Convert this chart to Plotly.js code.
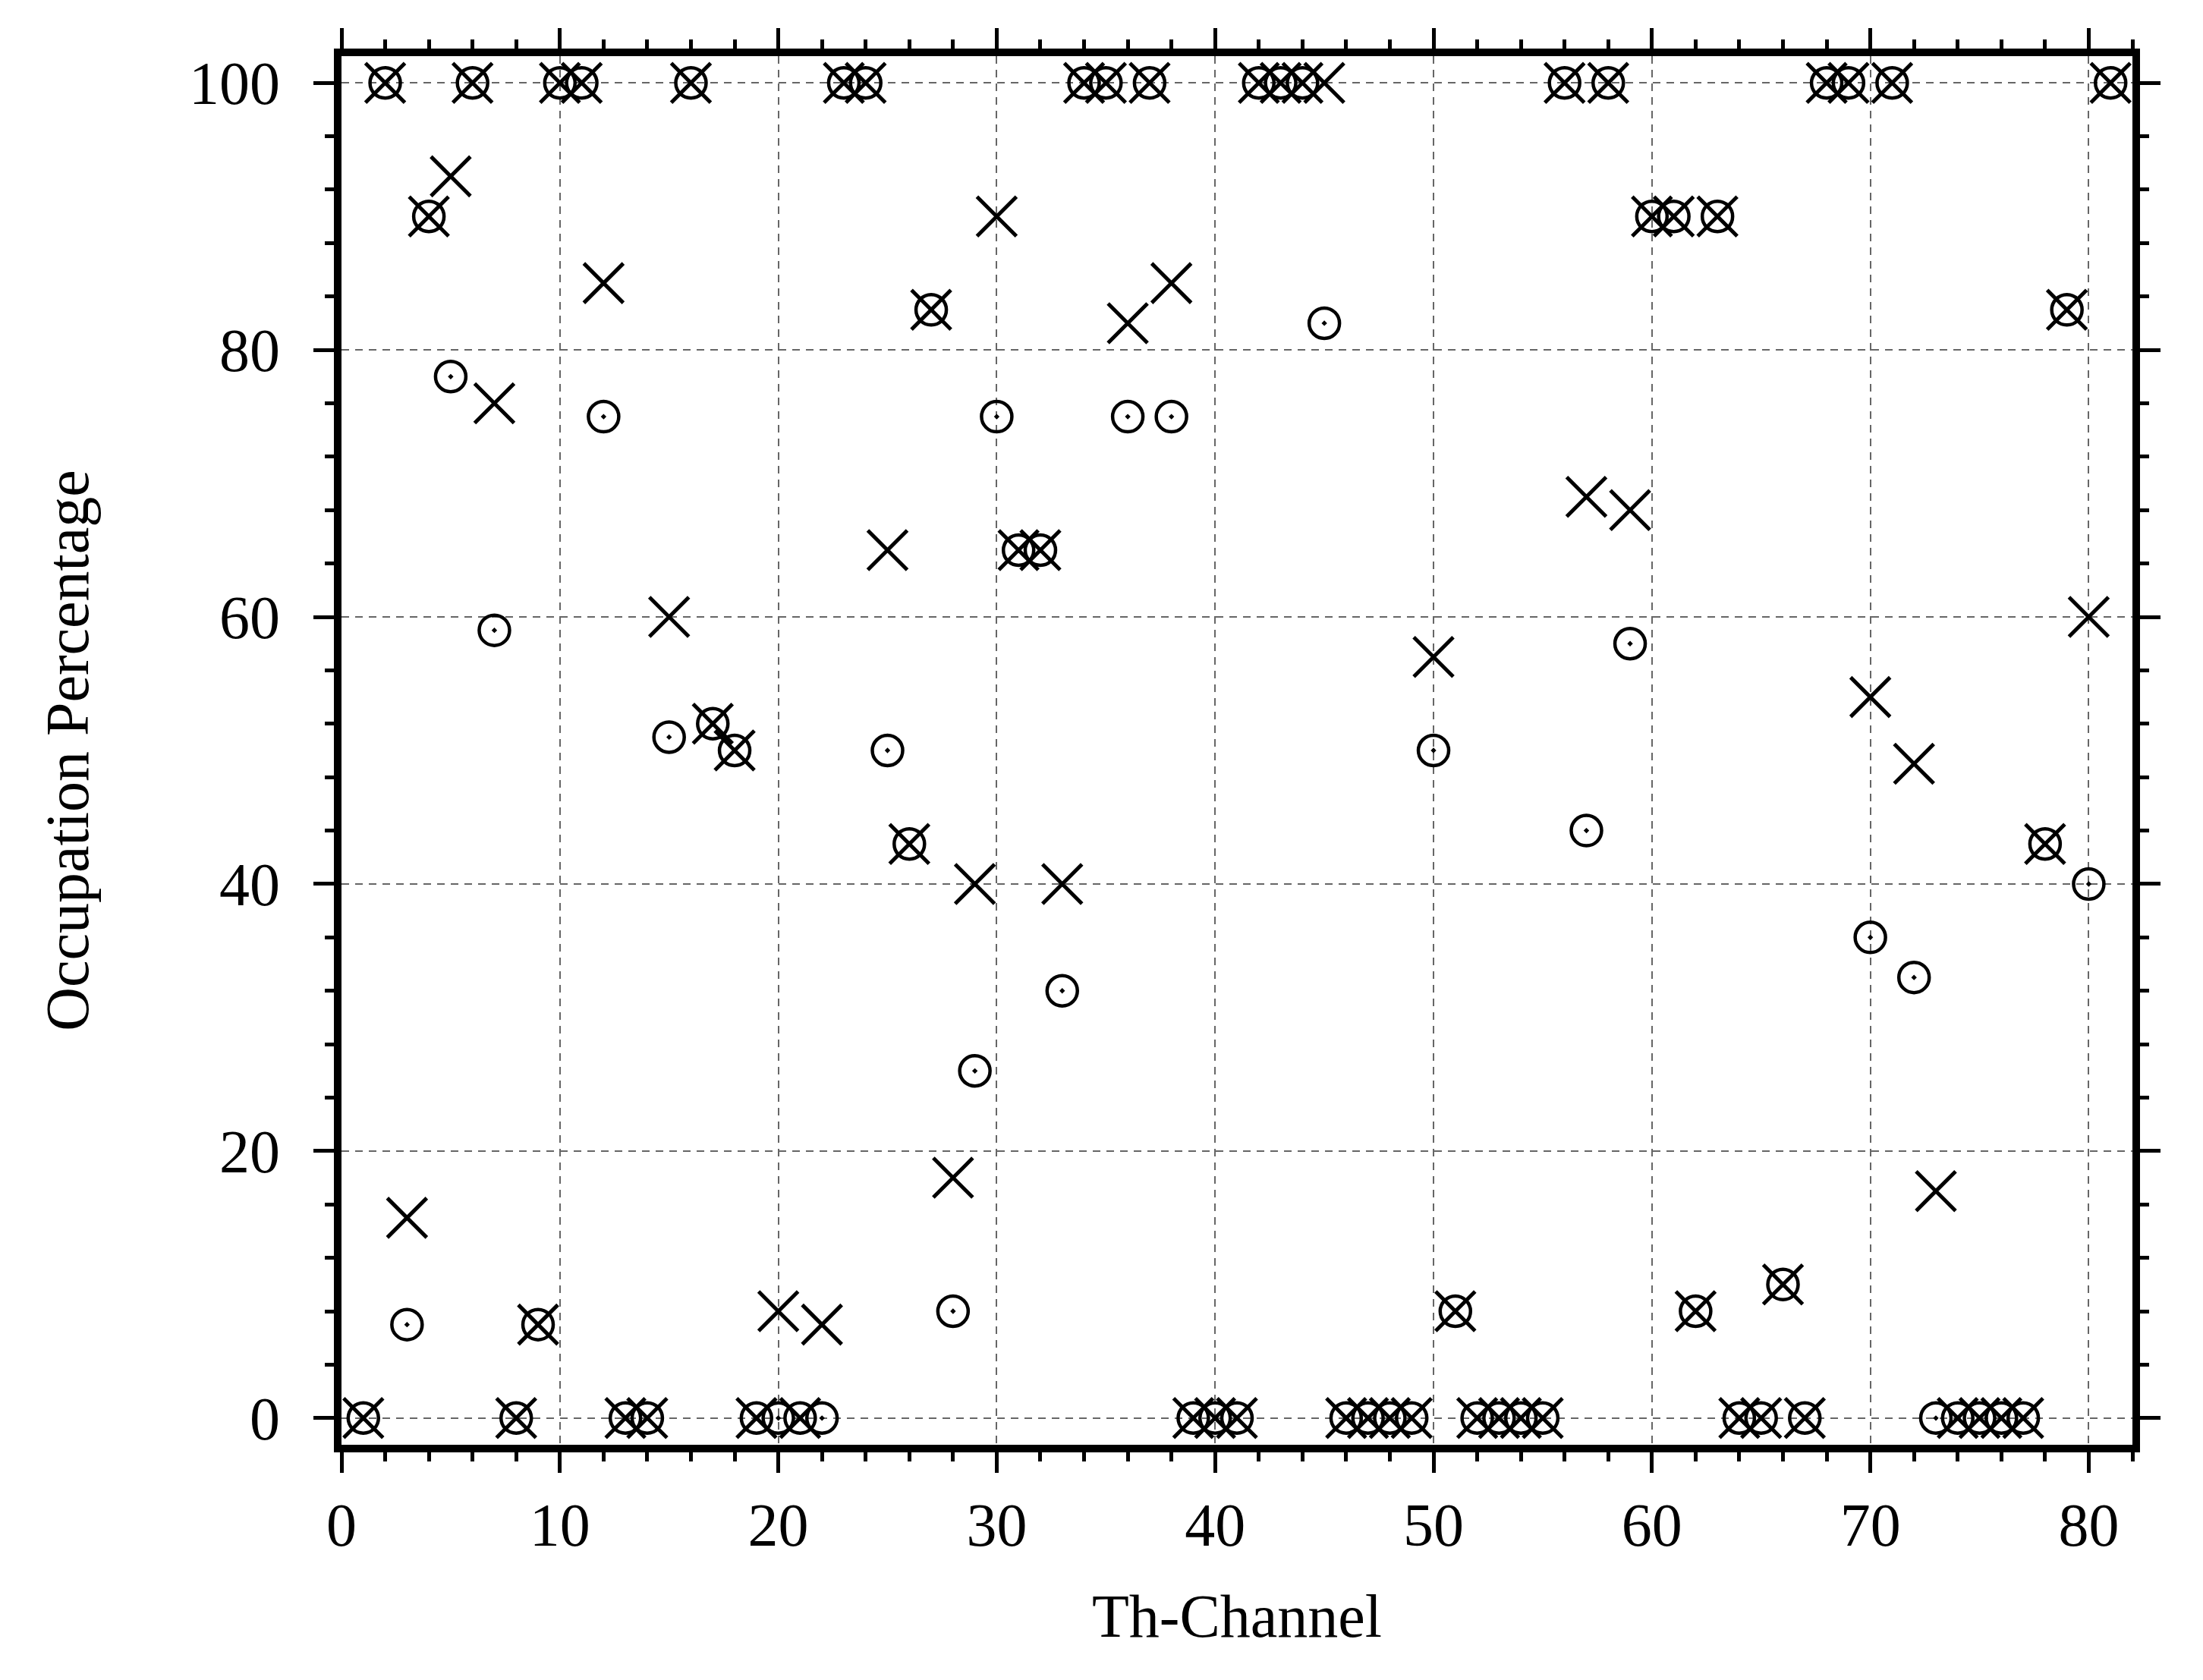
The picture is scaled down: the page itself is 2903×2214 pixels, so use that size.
<!DOCTYPE html>
<html>
<head>
<meta charset="utf-8">
<script src="https://cdn.plot.ly/plotly-3.0.1.min.js"></script>
<style>
  html, body { margin: 0; padding: 0; background: #fff; }
  #chart { width: 2903px; height: 2214px; }
</style>
</head>
<body>
<div id="chart"></div>
<script>
// channel numbers 1..81
var channels = [];
for (var c = 1; c <= 81; c++) channels.push(c);

// circle-with-dot series
var circleVals = [
  0, 100, 7, 90, 78, 100, 59, 0, 7, 100,
  100, 75, 0, 0, 51, 100, 52, 50, 0, 0,
  0, 0, 100, 100, 50, 43, 83, 8, 26, 75,
  65, 65, 32, 100, 100, 75, 100, 75, 0, 0,
  0, 100, 100, 100, 82, 0, 0, 0, 0, 50,
  8, 0, 0, 0, 0, 100, 44, 100, 58, 90,
  90, 8, 90, 0, 0, 10, 0, 100, 100, 36,
  100, 33, 0, 0, 0, 0, 0, 43, 83, 40,
  100
];

// cross series
var crossVals = [
  0, 100, 15, 90, 93, 100, 76, 0, 7, 100,
  100, 85, 0, 0, 60, 100, 52, 50, 0, 8,
  0, 7, 100, 100, 65, 43, 83, 18, 40, 90,
  65, 65, 40, 100, 100, 82, 100, 85, 0, 0,
  0, 100, 100, 100, 100, 0, 0, 0, 0, 57,
  8, 0, 0, 0, 0, 100, 69, 100, 68, 90,
  90, 8, 90, 0, 0, 10, 0, 100, 100, 54,
  100, 49, 17, 0, 0, 0, 0, 43, 83, 60,
  100
];

var fontFam = '"Liberation Serif", "Times New Roman", serif';

var circles = {
  x: channels,
  y: circleVals,
  mode: 'markers',
  type: 'scatter',
  name: 'circle',
  marker: {
    symbol: 'circle-open-dot',
    size: 40,
    color: '#000',
    line: { color: '#000', width: 4.5 }
  },
  hoverinfo: 'x+y'
};

var crosses = {
  x: channels,
  y: crossVals,
  mode: 'markers',
  type: 'scatter',
  name: 'cross',
  marker: {
    symbol: 'x-thin-open',
    size: 52,
    color: '#000',
    line: { color: '#000', width: 5 }
  },
  hoverinfo: 'x+y'
};

var axisCommon = {
  ticks: 'outside',
  ticklen: 27,
  tickwidth: 5,
  tickcolor: '#000',
  showline: true,
  linewidth: 10,
  linecolor: '#000',
  mirror: 'ticks',
  showgrid: true,
  gridcolor: '#666',
  gridwidth: 2,
  griddash: '10px,8px',
  zeroline: false,
  tickfont: { family: fontFam, size: 80, color: '#000' }
};

var layout = {
  width: 2903,
  height: 2214,
  paper_bgcolor: '#fff',
  plot_bgcolor: '#fff',
  showlegend: false,
  margin: { l: 450, r: 93, t: 74, b: 310 },
  font: { family: fontFam, size: 80, color: '#000' },
  xaxis: Object.assign({}, axisCommon, {
    range: [0, 82],
    tick0: 0,
    dtick: 10,
    minor: { dtick: 2, ticks: 'outside', ticklen: 12, tickwidth: 5, tickcolor: '#000', showgrid: false },
    title: { text: 'Th-Channel', font: { family: fontFam, size: 80, color: '#000' }, standoff: 52 }
  }),
  yaxis: Object.assign({}, axisCommon, {
    range: [-2, 102],
    tick0: 0,
    dtick: 20,
    ticklabelstandoff: 28,
    minor: { dtick: 4, ticks: 'outside', ticklen: 12, tickwidth: 5, tickcolor: '#000', showgrid: false },
    title: { text: 'Occupation Percentage', font: { family: fontFam, size: 80, color: '#000' }, standoff: 110 }
  })
};

Plotly.newPlot('chart', [circles, crosses], layout, { staticPlot: true });
</script>
</body>
</html>
